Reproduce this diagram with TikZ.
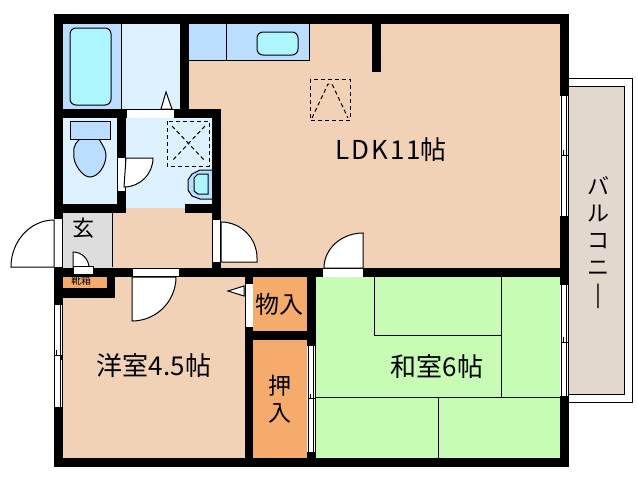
\documentclass[tikz,border=0pt]{standalone}
\usepackage{fontspec}
\newfontfamily\jpf{Noto Sans CJK JP}
\definecolor{peach}{HTML}{F2D2B6}
\definecolor{orng}{HTML}{F4AB6C}
\definecolor{tatami}{HTML}{C8FBB4}
\definecolor{paleb}{HTML}{DDF1FF}
\definecolor{midb}{HTML}{BBDDFF}
\definecolor{cyanb}{HTML}{AEF6FF}
\definecolor{grayf}{HTML}{DDDDDD}
\definecolor{balc}{HTML}{E3D8CE}
\tikzset{
 wall/.style={fill=black,draw=none},
 opening/.style={fill=white,draw=none},
 fix/.style={draw=black,line width=1pt},
 dash line/.style={draw=black,line width=1pt,dash pattern=on 4pt off 3pt},
 swing/.style={draw=black,fill=white,line width=1pt},
 lbl/.style={font=\jpf\fontsize{26}{26}\selectfont,inner sep=0pt,text=black},
}
\begin{document}
\begin{tikzpicture}[x=1pt,y=-1pt]
\useasboundingbox (0,0) rectangle (638,480);
\fill[white] (0,0) rectangle (638,480);
% balcony
\draw[fix] (569,78) -| (632,402) -- (569,402);
\draw[fix,fill=balc] (568,86) -| (624,394) -- (568,394);
% floors
\fill[peach] (60,20) rectangle (565,272);
\fill[peach] (60,272) rectangle (250,462);
\fill[tatami] (312,272) rectangle (565,462);
\fill[orng] (250,272) rectangle (312,462);
\fill[paleb] (60,20) rectangle (184,114);
\fill[midb] (60,20) rectangle (121,112);
\draw[fix] (121,24) -- (121,109);
\fill[paleb] (60,114) rectangle (122,208);
\fill[paleb] (122,114) rectangle (214,208);
\fill[grayf] (60,208) rectangle (112,272);
\draw[fix] (112,213) -- (112,267);
\fill[orng] (60,272) rectangle (111,292);
% bath tub
\draw[fix,fill=cyanb,rounded corners=6pt] (70,28) rectangle (111,105);
\draw[fix,fill=white] (161,109) -- (166,92) -- (172,109) -- cycle;
% kitchen
\draw[fix,fill=midb] (185,60) -| (309,20) -| cycle;
\draw[fix] (226,24) -- (226,60);
\draw[fix,fill=cyanb,rounded corners=6pt] (257,32) rectangle (298,55);
% toilet
\draw[fix,fill=midb] (80,139) .. controls (72,146) and (74,150) .. (74,158) .. controls (75,166) and (83,177) .. (90,177) .. controls (98,177) and (106,166) .. (106,155) .. controls (106,150) and (103,146) .. (99,139) -- cycle;
\draw[fix,fill=midb] (70,121) rectangle (110,139);
% washroom hatch
\draw[dash line] (167,121) rectangle (209,166);
\draw[dash line] (172,126) -- (205,161) (205,126) -- (172,161);
% basin
\draw[fix,fill=midb] (213,170) -- (200,170) -- (192,174) -- (188,180) -- (188,190) -- (192,196) -- (200,199) -- (213,199);
\draw[fix,fill=cyanb] (208,174) -- (198,174) -- (194,178) -- (194,191) -- (198,194) -- (208,194) -- cycle;
% LDK hatch
\draw[dash line] (310,79) rectangle (350,120);
\draw[dash line] (312,118) -- (328,84) -- (332,84) -- (348,118);
% walls
\fill[wall] (54,14) rectangle (569,24);
\fill[wall] (54,458) rectangle (569,467);
\fill[wall] (54,14) rectangle (63,467);
\fill[wall] (560,14) rectangle (569,467);
\fill[wall] (180,14) rectangle (189,118);
\fill[wall] (372,14) rectangle (381,72);
\fill[wall] (63,109) rectangle (221,118);
\fill[wall] (117,109) rectangle (126,213);
\fill[wall] (63,204) rectangle (126,213);
\fill[wall] (185,204) rectangle (221,213);
\fill[wall] (212,109) rectangle (221,268);
\fill[wall] (54,268) rectangle (569,277);
\fill[wall] (63,288) rectangle (115,298);
\fill[wall] (107,277) rectangle (115,298);
\fill[wall] (245,268) rectangle (253,467);
\fill[wall] (253,331) rectangle (316,340);
\fill[wall] (307,268) rectangle (316,467);
% tatami lines
\draw[fix] (374,277) -- (374,335) (501,277) -- (501,397) (374,335) -- (501,335) (316,397) -- (560,397) (438,397) -- (438,458);
% openings and doors
\fill[opening] (127,109) rectangle (174,118);
\draw[fix] (127,109) -- (174,109);
% toilet door
\fill[opening] (118,158) rectangle (125,191);
\draw[swing] (126,158) -- (153,158) arc[start angle=0,end angle=90,radius=29] -- cycle;
% front door
\fill[opening] (54,219) rectangle (62,267);
\draw[swing] (54,220) arc[start angle=-90,end angle=-180,x radius=43,y radius=47] -- (54,267) -- cycle;
% shoe door
\draw[swing] (73,252) arc[start angle=-90,end angle=0,radius=16] -- (73,268) -- cycle;
\fill[opening] (73,267) rectangle (93,274);
\draw[fix] (73,266) rectangle (93,274);
% western door
\fill[opening] (132,268) rectangle (179,276);
\draw[fix] (132,268) rectangle (179,276);
\draw[swing] (132,277) -- (176,277) arc[start angle=0,end angle=90,radius=44] -- cycle;
% LDK door
\fill[opening] (213,220) rectangle (220,262);
\draw[fix] (212,220) -- (212,262) (220.5,220) -- (220.5,262);
\draw[swing] (221,222) arc[start angle=-90,end angle=0,radius=36] -- (257,262) -- (221,262) -- cycle;
% washitsu door
\fill[opening] (323,268) rectangle (363,277);
\draw[fix] (323,268) -- (363,268);
\draw[swing] (363,233) arc[start angle=-90,end angle=-180,x radius=39,y radius=35] -- (363,268) -- cycle;
% closet door
\fill[opening] (245,284) rectangle (253,327);
\draw[fix] (245,284) -- (245,327);
\draw[fix,fill=white] (244,286) -- (228,291) -- (244,296) -- cycle;
% sliding windows
\fill[opening] (54,305) rectangle (63,407);
\draw[fix] (54.5,305) -- (54.5,407) (60,305) -- (60,407) (62,305) -- (62,407);
\draw[fix] (55,355) -- (62,355) (56,350) -- (56,355) (61,355) -- (61,360);
\fill[opening] (560,96) rectangle (569,216);
\draw[fix] (561,96) -- (561,216) (566,96) -- (566,216) (568,96) -- (568,216);
\draw[fix] (561,155) -- (568,155) (563,150) -- (563,155) (566,155) -- (566,160);
\fill[opening] (560,285) rectangle (569,396);
\draw[fix] (561,285) -- (561,396) (566,285) -- (566,396) (568,285) -- (568,396);
\draw[fix] (561,342) -- (568,342) (563,337) -- (563,342) (566,342) -- (566,347);
\fill[opening] (307,346) rectangle (316,452);
\draw[fix] (308,346) -- (308,452) (313.5,346) -- (313.5,452) (315,346) -- (315,452);
\draw[fix] (308,398) -- (316,398) (310,394) -- (310,398) (313,398) -- (313,403);
% labels
\node[lbl] (ldk) at (391,150) {{\addfontfeature{LetterSpace=8}LDK11}帖};
\node[lbl] (yoshitsu) at (154,366) {洋室4.5帖};
\node[lbl] (washitsu) at (437,367) {和室6帖};
\node[font=\jpf\fontsize{24}{24}\selectfont,inner sep=0pt] (monoire) at (279,304) {物入};
\node[font=\jpf\fontsize{23}{27}\selectfont,inner sep=0pt,align=center] (oshiire) at (280,399) {押\\入};
\node[font=\jpf\fontsize{22}{22}\selectfont,inner sep=0pt] (genkan) at (83,228) {玄};
\node[font=\jpf\fontsize{10}{10}\selectfont,inner sep=0pt] (kutsubako) at (81,281) {靴箱};
\node[font=\jpf\fontsize{22}{27}\selectfont,inner sep=0pt,align=center] (balcony) at (598,243) {バ\\ル\\コ\\ニ\\|};
\end{tikzpicture}
\end{document}
